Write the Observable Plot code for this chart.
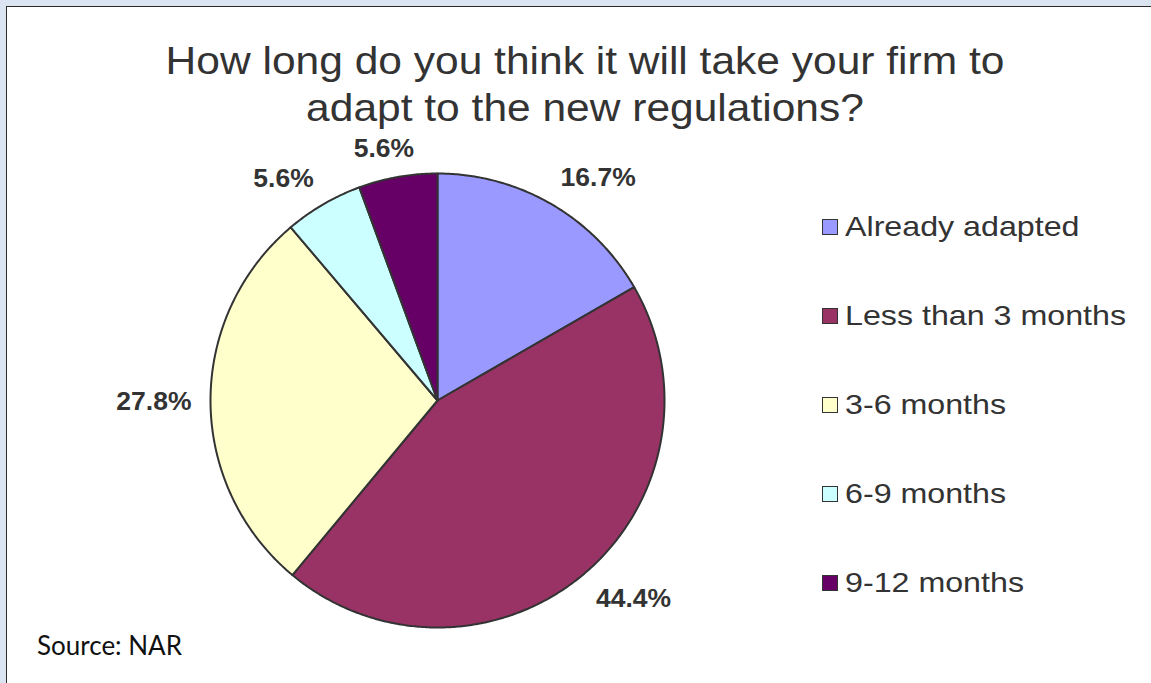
<!DOCTYPE html>
<html>
<head>
<meta charset="utf-8">
<script src="https://cdn.jsdelivr.net/npm/d3@7"></script>
<script src="https://cdn.jsdelivr.net/npm/@observablehq/plot@0.6"></script>
<style>
  html, body { margin: 0; padding: 0; }
  body { width: 1151px; height: 683px; background: #dbe5f1; position: relative; overflow: hidden; font-family: "Liberation Sans", Arial, sans-serif; }
  #panel { position: absolute; left: 6px; top: 6px; right: 0; bottom: 0; background: #fff; border-left: 1px solid #2a2a2a; border-top: 1px solid #2a2a2a; }
  #title { position: absolute; left: 0; width: 1170px; top: 37px; text-align: center; font-size: 39px; line-height: 47px; color: #333; transform: scaleX(1.09); transform-origin: 585px 0; white-space: nowrap; }
  #chart { position: absolute; left: 0; top: 0; }
  #legend { position: absolute; left: 0; top: 0; }
  .li { position: absolute; left: 822px; height: 30px; display: flex; align-items: center; white-space: nowrap; }
  .sw { width: 14px; height: 14px; border: 1.5px solid #333; box-sizing: content-box; margin-right: 7px; }
  .lt { font-size: 28px; color: #333; transform: scaleX(1.15); transform-origin: 0 50%; display: inline-block; }
  #source { position: absolute; left: 37px; top: 629px; font-family: Lato, "Open Sans", sans-serif; font-size: 26px; color: #111; white-space: nowrap; }
</style>
</head>
<body>
<div id="panel"></div>
<div id="title">How long do you think it will take your firm to<br>adapt to the new regulations?</div>
<div id="chart"></div>
<div id="legend"></div>
<div id="source">Source: NAR</div>
<script>
// ---- data ----
const categories = ["Already adapted", "Less than 3 months", "3-6 months", "6-9 months", "9-12 months"];
const percents = [16.7, 44.4, 27.8, 5.6, 5.6];
const labels = ["16.7%", "44.4%", "27.8%", "5.6%", "5.6%"];
const colors = ["#9999ff", "#993366", "#ffffcc", "#ccffff", "#660066"];

// ---- layout ----
const W = 1151, H = 683;
const CX = 437, CY = 400, R = 227;
const GAP = 19;
const LABEL_FONT = 26.5;

const pie = d3.pie().sort(null).value(d => d)(percents);

// slice polygons in unit-radius coordinates (y up, angle 0 at 12 o'clock, clockwise)
const slices = pie.map((p, i) => {
  const pts = [{x: 0, y: 0}];
  const n = Math.max(2, Math.ceil((p.endAngle - p.startAngle) / (Math.PI / 360)));
  for (let k = 0; k <= n; k++) {
    const a = p.startAngle + (p.endAngle - p.startAngle) * k / n;
    pts.push({x: Math.sin(a), y: Math.cos(a)});
  }
  pts.push({x: 0, y: 0});
  return {category: categories[i], color: colors[i], points: pts};
});

// label positions: outside the pie, box pushed away from the rim
const ctx = document.createElement("canvas").getContext("2d");
ctx.font = `bold ${LABEL_FONT}px "Liberation Sans", Arial`;
const clamp = v => Math.max(-1, Math.min(1, v));
const labelData = pie.map((p, i) => {
  const m = (p.startAngle + p.endAngle) / 2;
  const w = ctx.measureText(labels[i]).width;
  const h = LABEL_FONT * 0.72;
  const s = Math.sin(m), c = Math.cos(m);
  return {
    text: labels[i],
    x: s * (1 + GAP / R) + clamp(2 * s) * (w / 2) / R,
    y: c * (1 + GAP / R) + clamp(2 * c) * (h / 2) / R
  };
});

const chart = Plot.plot({
  width: W,
  height: H,
  margin: 0,
  style: {background: "transparent", overflow: "visible"},
  x: {domain: [-CX / R, (W - CX) / R], range: [0, W], axis: null},
  y: {domain: [-(H - CY) / R, CY / R], range: [H, 0], axis: null},
  marks: [
    ...slices.map(s => Plot.line(s.points, {
      x: "x", y: "y", fill: s.color, stroke: "#333", strokeWidth: 2,
      strokeLinejoin: "round", curve: "linear"
    })),
    Plot.text(labelData, {
      x: "x", y: "y", text: "text", fontSize: LABEL_FONT, fontWeight: "bold",
      fill: "#333", textAnchor: "middle", lineAnchor: "middle",
      fontFamily: "Liberation Sans, Arial, sans-serif"
    })
  ]
});
document.getElementById("chart").appendChild(chart);

// legend
const legend = document.getElementById("legend");
const LEG_TOP = 226.5, LEG_STEP = 89.2;
categories.forEach((c, i) => {
  const row = document.createElement("div");
  row.className = "li";
  row.style.top = (LEG_TOP + i * LEG_STEP - 15) + "px";
  const sw = document.createElement("span");
  sw.className = "sw";
  sw.style.background = colors[i];
  const t = document.createElement("span");
  t.className = "lt";
  t.textContent = c;
  row.appendChild(sw);
  row.appendChild(t);
  legend.appendChild(row);
});
</script>
</body>
</html>
